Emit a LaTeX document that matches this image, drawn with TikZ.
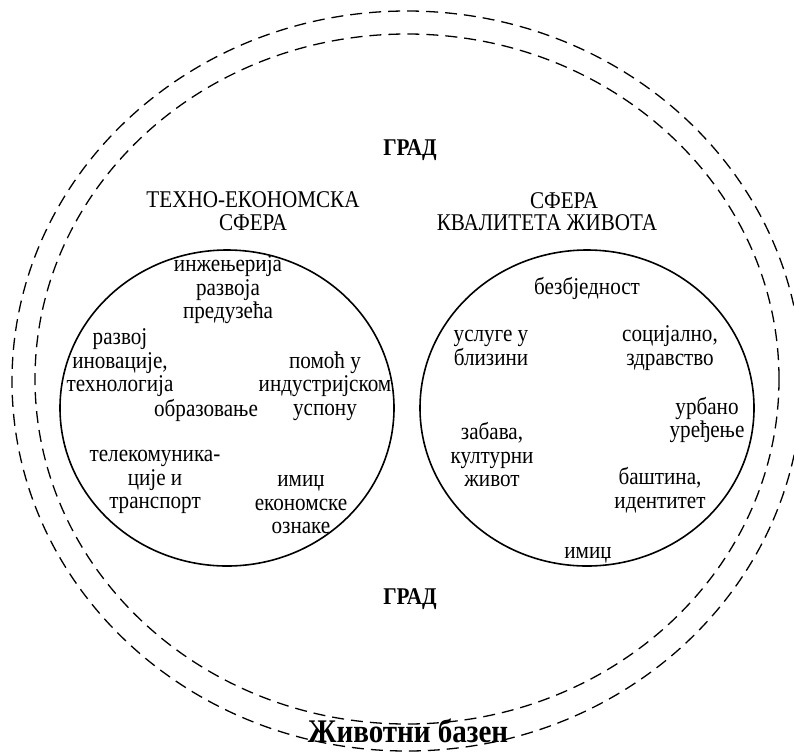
\documentclass[tikz,border=0pt]{standalone}
\usepackage{fontspec}
\setmainfont{Liberation Serif}[FakeStretch=0.88]
\usepackage{tikz}
\usetikzlibrary{shapes.geometric, positioning}
\tikzstyle{item} = [align=center, inner sep=0pt, font=\fontsize{24}{23.5}\selectfont]
\tikzstyle{city} = [item, font=\fontsize{24}{23.5}\selectfont\bfseries]
\tikzstyle{basin} = [item, font=\fontsize{33}{36}\selectfont\bfseries]
\tikzstyle{sphere} = [ellipse, draw, line width=1.6pt, inner sep=0pt, minimum width=334pt, minimum height=316pt]
\tikzstyle{zone} = [ellipse, draw, line width=1.3pt, dash pattern=on 12pt off 7pt, inner sep=0pt]

\begin{document}
\begin{tikzpicture}[x=1pt, y=-1pt]
\useasboundingbox (0,0) rectangle (794,753);
% the living basin and the city
\node (outer) [zone, minimum width=790pt, minimum height=740pt] at (407,381) {};
\node (inner) [zone, minimum width=744pt, minimum height=690pt] at (407,379) {};
\node (citytop) [city] at (410,150) {ГРАД};
\node (citybot) [city] at (410,599) {ГРАД};
\node (pool) [basin] at (408,731) {Животни базен};

% techno-economic sphere
\node (techno) [sphere] at (227,408) {};
\node (technotitle) [item] at (253,211) {ТЕХНО-ЕКОНОМСКА\\СФЕРА};
\node (engineering) [item] at (228,290) {инжењерија\\развоја\\предузећа};
\node (innovation) [item] at (120,363) {развој\\иновације,\\технологија};
\node (education) [item] at (206,410) {образовање};
\node (industry) [item] at (325,386) {помоћ у\\индустријском\\успону};
\node (telecom) [item] at (155,482) {телекомуника-\\ције и\\транспорт};
\node (ecoimage) [item] at (301,505) {имиџ\\економске\\ознаке};

% quality of life sphere
\node (quality) [sphere] at (587,408) {};
\node (qualitytitle) [item] at (564,201) {СФЕРА};
\node (qualitytitleb) [item] at (547,223) {КВАЛИТЕТА ЖИВОТА};
\node (safety) [item] at (587,288) {безбједност};
\node (services) [item] at (491,348) {услуге у\\близини};
\node (social) [item] at (670,348) {социјално,\\здравство};
\node (urban) [item] at (707,420) {урбано\\уређење};
\node (culture) [item] at (492,455) {забава,\\културни\\живот};
\node (heritage) [item] at (660,490) {баштина,\\идентитет};
\node (image) [item] at (588,555) {имиџ};
\end{tikzpicture}
\end{document}
